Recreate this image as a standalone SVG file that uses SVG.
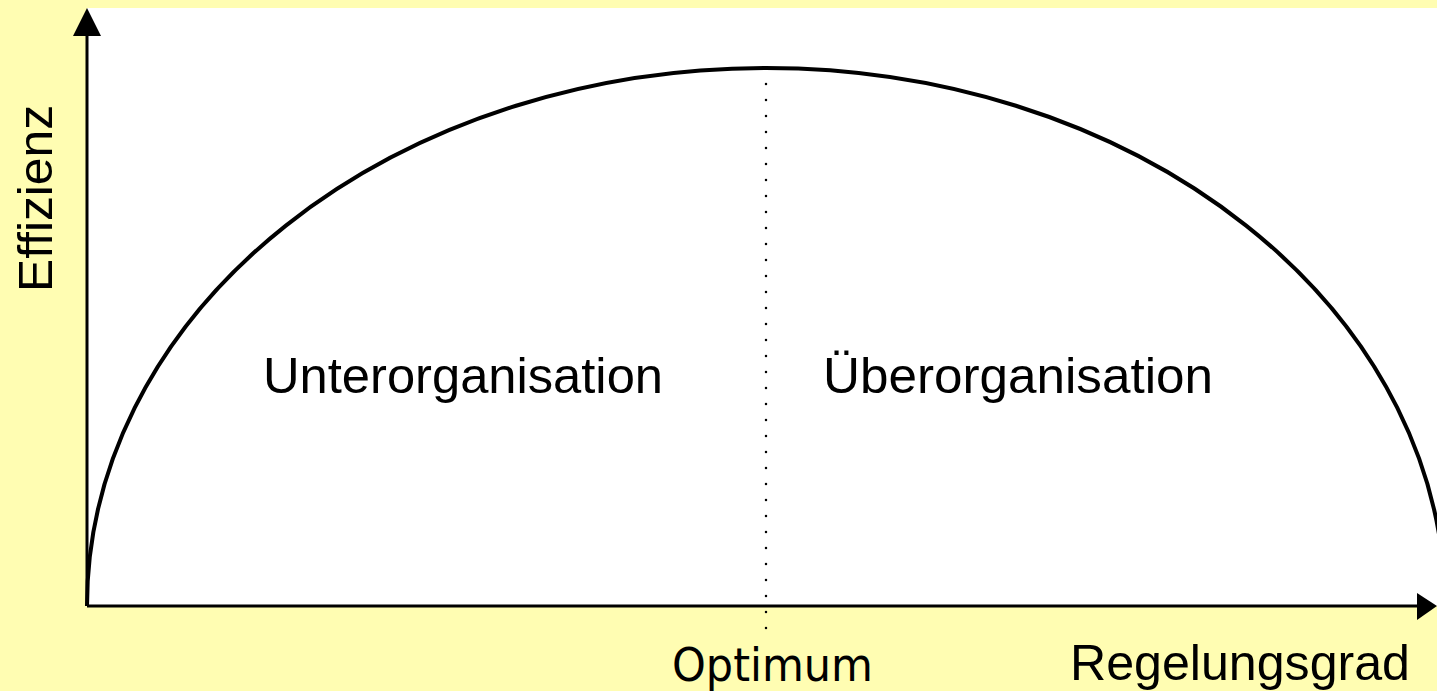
<svg xmlns="http://www.w3.org/2000/svg" width="1437" height="691" viewBox="0 0 1437 691">
<style>
.lbl{font-family:"Liberation Sans",Arial,sans-serif;fill:#000}
.axis{stroke:#000;stroke-width:3;fill:none}
</style>
<rect x="0" y="0" width="1437" height="691" fill="#FFFDB2"/>
<rect x="87" y="8" width="1350" height="598" fill="#FFFFFF"/>
<g id="connectors">
<path d="M87,606 A679,538 0 0 1 1445,606" fill="none" stroke="#000" stroke-width="4"/>
<line x1="766" y1="84" x2="766" y2="634" stroke="#000" stroke-width="2.5" stroke-linecap="round" stroke-dasharray="0 16"/>
<line class="axis" x1="87" y1="606" x2="87" y2="35"/>
<path d="M73,36 L87,8 L101,36 Z" fill="#000"/>
<line class="axis" x1="87" y1="606" x2="1418" y2="606"/>
<path d="M1417,593 L1437,606 L1417,620 Z" fill="#000"/>
</g>
<g id="y-label"><text class="lbl" font-size="49" transform="translate(52,292) rotate(-90)" textLength="187" lengthAdjust="spacingAndGlyphs">Effizienz</text></g>
<g id="unter"><text class="lbl" x="263" y="393" font-size="50" textLength="400" lengthAdjust="spacingAndGlyphs">Unterorganisation</text></g>
<g id="ueber"><text class="lbl" x="823" y="393" font-size="50" textLength="390" lengthAdjust="spacingAndGlyphs">Überorganisation</text></g>
<g id="optimum"><text x="672" y="681" font-family="'DejaVu Sans',Verdana,sans-serif" font-size="47" textLength="201" lengthAdjust="spacingAndGlyphs">Optimum</text></g>
<g id="x-label"><text class="lbl" x="1070" y="680" font-size="50" textLength="340" lengthAdjust="spacingAndGlyphs">Regelungsgrad</text></g>
</svg>
